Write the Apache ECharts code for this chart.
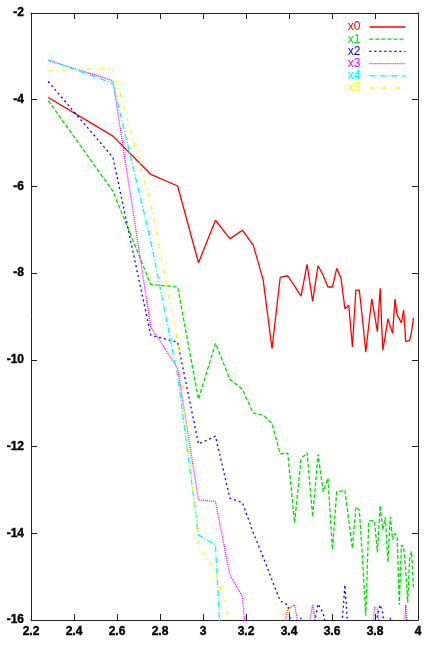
<!DOCTYPE html>
<html>
<head>
<meta charset="utf-8">
<script src="https://cdn.jsdelivr.net/npm/echarts@6/dist/echarts.min.js"></script>
<style>
html,body{margin:0;padding:0;background:#fff;}
#chart{width:428px;height:646px;}
</style>
</head>
<body>
<div id="chart"></div>
<script>
// x positions of the samples
const xValues = [2.280, 2.581, 2.757, 2.882, 2.979, 3.058, 3.125, 3.183, 3.234, 3.280,
  3.321, 3.359, 3.394, 3.426, 3.456, 3.484, 3.510, 3.535, 3.559, 3.581,
  3.602, 3.622, 3.642, 3.660, 3.678, 3.695, 3.711, 3.727, 3.742, 3.757,
  3.771, 3.785, 3.798, 3.811, 3.824, 3.836, 3.848, 3.860, 3.871, 3.882,
  3.893, 3.903, 3.913, 3.923, 3.933, 3.943, 3.952, 3.961, 3.970, 3.979];

const x0 = [-3.95, -4.84, -5.72, -5.99, -7.76, -6.78, -7.21, -7.01, -7.36, -8.16,
  -9.74, -8.10, -8.06, -8.30, -8.53, -7.80, -8.65, -7.83, -8.05, -8.32,
  -8.32, -7.89, -8.12, -8.82, -8.74, -9.70, -8.39, -8.39, -9.07, -9.82,
  -9.20, -8.59, -8.96, -9.35, -8.35, -9.78, -9.44, -9.05, -9.23, -9.39,
  -8.60, -8.97, -9.05, -9.15, -8.85, -9.58, -9.55, -9.55, -9.35, -9.03];

const x1 = [-4.02, -6.11, -8.26, -8.32, -10.91, -9.62, -10.45, -10.68, -11.23, -11.28,
  -11.47, -12.17, -12.15, -13.76, -12.29, -12.14, -13.62, -12.18, -13.04, -12.73,
  -14.38, -13.04, -13.03, -13.01, -13.70, -14.35, -13.39, -13.46, -14.60, -15.90,
  -13.72, -13.70, -13.73, -14.44, -13.36, -13.92, -13.63, -14.67, -13.62, -14.15,
  -14.00, -14.08, -15.65, -14.27, -14.31, -14.86, -15.60, -14.60, -14.42, -15.25];

const x2 = [-3.58, -5.33, -9.43, -9.59, -11.94, -11.76, -13.19, -13.29, -13.99, -14.55,
  -15.08, -15.56, -15.65, -16.40, -15.95, -16.40, -16.30, -15.63, -15.84, -16.40,
  -16.50, -16.50, -16.40, -15.19, -16.50, -16.50, -16.50, -16.50, -16.50, -16.50,
  -16.50, -16.50, -16.50, -15.90, -15.65, -15.84, -16.40, -16.50, -15.95, -16.50,
  -16.50, -16.50, -16.50, -16.50, -16.50, -16.50, -16.50, -16.50, -16.50, -16.50];

const x3 = [-3.09, -3.56, -9.24, -10.20, -13.23, -13.27, -14.96, -15.46, -18.20, -17.50,
  -17.00, -16.60, -15.75, -15.65, -16.50, -16.40, -15.65, -16.40, -16.50, -16.50,
  -16.50, -16.50, -16.50, -16.50, -16.50, -16.50, -16.50, -16.50, -16.50, -16.50,
  -16.50, -16.50, -15.70, -15.75, -16.40, -16.50, -16.50, -16.50, -16.50, -16.50,
  -16.50, -16.50, -16.50, -16.50, -16.40, -15.65, -16.40, -16.50, -16.50, -16.50];

const x4 = [-3.08, -3.62, -7.26, -10.37, -14.04, -14.27, -20.60, -17.00, -17.00, -17.00,
  -17.00, -17.00, -17.00, -17.00, -17.00, -17.00, -17.00, -17.00, -17.00, -17.00,
  -17.00, -17.00, -17.00, -17.00, -17.00, -17.00, -17.00, -17.00, -17.00, -17.00,
  -17.00, -17.00, -17.00, -17.00, -17.00, -17.00, -17.00, -17.00, -17.00, -17.00,
  -17.00, -17.00, -17.00, -17.00, -17.00, -17.00, -17.00, -17.00, -17.00, -17.00];

const x5 = [-3.34, -3.26, -6.39, -9.58, -14.30, -14.85, -16.05, -16.60, -16.50, -16.40,
  -16.30, -16.00, -15.70, -16.40, -16.50, -16.50, -16.50, -16.50, -16.50, -16.50,
  -16.50, -16.50, -16.50, -16.50, -16.50, -16.50, -16.50, -16.50, -16.50, -16.50,
  -16.50, -16.50, -16.50, -16.50, -16.50, -16.50, -16.50, -16.50, -16.50, -16.50,
  -16.50, -16.50, -16.50, -16.50, -16.50, -16.50, -16.50, -16.50, -16.50, -16.50];

const seriesNames = ['x0', 'x1', 'x2', 'x3', 'x4', 'x5'];
const seriesValues = [x0, x1, x2, x3, x4, x5];
const seriesColors = ['#ff0000', '#00e000', '#0000ff', '#ff00ff', '#00ffff', '#ffff00'];
const seriesDash = ['solid', [4, 2], [2, 3], [1, 1], [6, 2, 1, 2], [4, 4, 1, 4]];

const xTickLabels = ['2.2', '2.4', '2.6', '2.8', '3', '3.2', '3.4', '3.6', '3.8', '4'];
const yTickLabels = ['-16', '-14', '-12', '-10', '-8', '-6', '-4', '-2'];

const xMin = parseFloat(xTickLabels[0]);
const xMax = parseFloat(xTickLabels[xTickLabels.length - 1]);
const yMin = parseFloat(yTickLabels[0]);
const yMax = parseFloat(yTickLabels[yTickLabels.length - 1]);

const font = 'Liberation Sans';
const lineCol = '#222';
const tickLabelStyle = {
  color: '#000', fontWeight: 'bold', fontSize: 12, fontFamily: font,
  textBorderColor: '#000', textBorderWidth: 0.4
};

function xAxisDef(pos, showLabel) {
  return {
    type: 'value', position: pos, min: xMin, max: xMax, interval: 0.2,
    axisLine: { show: true, onZero: false, lineStyle: { color: lineCol, width: 1 } },
    axisTick: { show: true, inside: true, length: 6, lineStyle: { color: lineCol } },
    axisLabel: Object.assign({
      show: showLabel, margin: 6,
      formatter: function (v) { return xTickLabels[Math.round((v - xMin) / 0.2)]; }
    }, tickLabelStyle),
    splitLine: { show: false }
  };
}
function yAxisDef(pos, showLabel) {
  return {
    type: 'value', position: pos, min: yMin, max: yMax, interval: 2,
    axisLine: { show: true, onZero: false, lineStyle: { color: lineCol, width: 1 } },
    axisTick: { show: true, inside: true, length: 6, lineStyle: { color: lineCol } },
    axisLabel: Object.assign({
      show: showLabel, margin: 7,
      formatter: function (v) { return yTickLabels[Math.round((v - yMin) / 2)]; }
    }, tickLabelStyle),
    splitLine: { show: false }
  };
}

const chart = echarts.init(document.getElementById('chart'), null, { renderer: 'canvas' });
chart.setOption({
  animation: false,
  backgroundColor: '#fff',
  textStyle: { fontFamily: font },
  grid: { left: 31, right: 10, top: 13, bottom: 26 },
  xAxis: [xAxisDef('bottom', true), xAxisDef('top', false)],
  yAxis: [yAxisDef('left', true), yAxisDef('right', false)],
  legend: {
    orient: 'vertical', right: 17, top: 16, align: 'right',
    itemWidth: 36, itemHeight: 8, itemGap: 0.2,
    itemStyle: { color: 'transparent', borderWidth: 0, opacity: 0 },
    textStyle: { fontSize: 12, fontFamily: font, padding: [0, 4, 0, 0] },
    data: seriesNames.map(function (n, i) {
      return {
        name: n,
        textStyle: { color: seriesColors[i] },
        lineStyle: { color: seriesColors[i], width: 1.3, type: seriesDash[i], opacity: 1 }
      };
    })
  },
  series: seriesNames.map(function (n, i) {
    return {
      name: n, type: 'line', xAxisIndex: 0, yAxisIndex: 0,
      showSymbol: false, symbol: 'none', clip: true,
      color: seriesColors[i],
      lineStyle: { color: seriesColors[i], width: 1.3, type: seriesDash[i] },
      data: xValues.map(function (x, j) { return [x, seriesValues[i][j]]; })
    };
  })
});
</script>
</body>
</html>
